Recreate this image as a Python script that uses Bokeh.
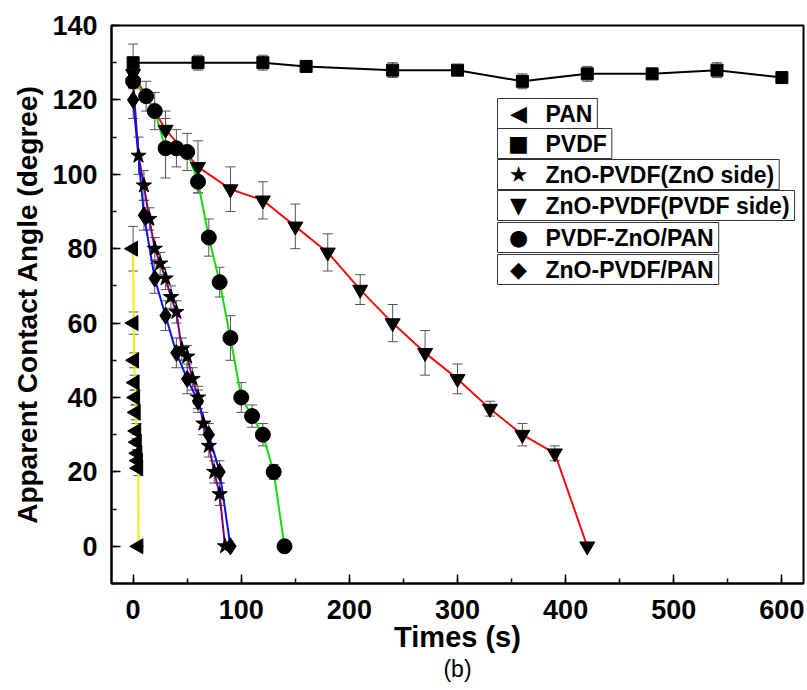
import numpy as np
from bokeh.plotting import figure
from bokeh.models import (Range1d, SingleIntervalTicker, ColumnDataSource, Whisker,
                          TeeHead, Label, LinearAxis, FixedTicker)
from bokeh.embed import file_html
from bokeh.resources import INLINE

# ---------------- data ----------------
pan_t = [0, 0.5, 1, 1.5, 2, 2.5, 3, 3.5, 4, 4.5, 4.8, 5]
pan_a = [80, 60, 50, 44, 40, 36, 31, 28, 25, 23, 21, 0]
pan_e = [6, 3, 2, 2, 2, 2, 2, 2, 2, 2, 2, 0]

pvdf_t = [0, 60, 120, 160, 240, 300, 360, 420, 480, 540, 600]
pvdf_a = [130, 130, 130, 129, 128, 128, 125, 127, 127, 128, 126]
pvdf_e = [5, 2, 2, 1, 2, 1, 2, 2, 1, 2, 1]

zns_t = [0, 5, 10, 15, 20, 25, 30, 35, 40, 45, 50, 55, 60, 65, 70, 75, 80, 85]
zns_a = [125, 105, 97, 88, 80, 76, 72, 67, 63, 53, 51, 45, 40, 33, 27, 20, 14, 0]
zns_e = [5, 5, 4, 3, 3, 3, 3, 3, 3, 3, 3, 3, 3, 3, 3, 3, 3, 0]

pvs_t = [0, 30, 60, 90, 120, 150, 180, 210, 240, 270, 300, 330, 360, 390, 420]
pvs_a = [127, 112, 102, 96, 93, 86, 79, 69, 60, 52, 45, 37, 30, 25, 0]
pvs_e = [3, 5, 7, 6, 5, 6, 5, 4, 5, 6, 4, 2, 3, 2, 0]

pzp_t = [0, 12, 20, 30, 40, 50, 60, 70, 80, 90, 100, 110, 120, 130, 140]
pzp_a = [125, 121, 117, 107, 107, 106, 98, 83, 71, 56, 40, 35, 30, 20, 0]
pzp_e = [2, 4, 5, 8, 5, 5, 3, 5, 4, 6, 4, 3, 3, 2, 0]

zpp_t = [0, 10, 20, 30, 40, 50, 60, 70, 80, 90]
zpp_a = [120, 89, 72, 62, 52, 45, 39, 30, 20, 0]
zpp_e = [5, 4, 4, 4, 4, 4, 3, 3, 3, 0]

labels = ["PAN", "PVDF", "ZnO-PVDF(ZnO side)", "ZnO-PVDF(PVDF side)",
          "PVDF-ZnO/PAN", "ZnO-PVDF/PAN"]
symbols = ["\u25C0", "\u25A0", "\u2605", "\u25BC", "\u25CF", "\u25C6"]

x_ticks_interval = 100
y_ticks_interval = 20

FONT = "Liberation Sans"

p = figure(width=805, height=688, output_backend="svg", toolbar_location=None,
           x_range=Range1d(-20, 620), y_range=Range1d(-10, 140),
           min_border_left=111, min_border_right=2, min_border_top=25,
           min_border_bottom=105)
p.grid.visible = False
p.outline_line_color = "black"
p.outline_line_width = 2
p.background_fill_color = "white"
p.border_fill_color = "white"

p.xaxis.ticker = SingleIntervalTicker(interval=x_ticks_interval, num_minor_ticks=2)
p.yaxis.ticker = SingleIntervalTicker(interval=y_ticks_interval, num_minor_ticks=2)
for ax in (p.xaxis[0], p.yaxis[0]):
    ax.axis_line_width = 2
    ax.axis_line_color = "black"
    ax.major_tick_in = 9
    ax.major_tick_out = 0
    ax.minor_tick_in = 5
    ax.minor_tick_out = 0
    ax.major_tick_line_width = 1.5
    ax.minor_tick_line_width = 1.5
    ax.major_label_text_font = FONT
    ax.major_label_text_font_style = "bold"
    ax.major_label_text_font_size = "27px"
    ax.major_label_text_color = "black"
    ax.axis_label_text_font = FONT
    ax.axis_label_text_font_style = "bold"
    ax.axis_label_text_color = "black"

p.xaxis.axis_label = "Times (s)"
p.yaxis.axis_label = "Apparent Contact Angle (degree)"
p.xaxis.axis_label_text_font_size = "29px"
p.yaxis.axis_label_text_font_size = "28px"
p.xaxis.major_label_standoff = 16
p.yaxis.major_label_standoff = 14
p.xaxis.axis_label_standoff = -1
p.yaxis.axis_label_standoff = 6

# caption "(b)" as a bare extra axis below the x axis
cap = LinearAxis(axis_label="(b)", ticker=FixedTicker(ticks=[]),
                 axis_line_color=None, major_tick_line_color=None,
                 minor_tick_line_color=None, major_label_text_font_size="0px",
                 major_label_standoff=0, axis_label_standoff=0,
                 axis_label_text_font=FONT, axis_label_text_font_style="normal",
                 axis_label_text_font_size="23px", axis_label_text_color="black")
p.add_layout(cap, "below")

series = [
    (pan_t, pan_a, pan_e, "#f5ee00", "triangle", 15, np.pi / 2),
    (pvdf_t, pvdf_a, pvdf_e, "black", "square", 12, 0),
    (zns_t, zns_a, zns_e, "#7a007a", "star", 16, 0),
    (pvs_t, pvs_a, pvs_e, "#ee1111", "inverted_triangle", 15, 0),
    (pzp_t, pzp_a, pzp_e, "#11dd11", "circle", 15, 0),
    (zpp_t, zpp_a, zpp_e, "#1010ee", "diamond", 17, 0),
]

# lines first
for t, a, e, col, mk, sz, ang in series:
    p.line(t, a, line_color=col, line_width=2)

# error bars
for t, a, e, col, mk, sz, ang in series:
    arr_a = np.array(a, dtype=float)
    arr_e = np.array(e, dtype=float)
    src = ColumnDataSource(dict(x=t, upper=arr_a + arr_e, lower=arr_a - arr_e))
    w = Whisker(source=src, base="x", upper="upper", lower="lower",
                line_color="#555555", line_width=1, level="underlay",
                upper_head=TeeHead(size=10, line_color="#555555", line_width=1),
                lower_head=TeeHead(size=10, line_color="#555555", line_width=1))
    p.add_layout(w)

# markers
for t, a, e, col, mk, sz, ang in series:
    p.scatter(t, a, marker=mk, size=sz, angle=ang, fill_color="black",
              line_color="black")

# legend: one boxed entry per series (screen units from frame bottom-left)
box_y = [470, 440, 409, 378, 346, 314]
for lab, sym, y in zip(labels, symbols, box_y):
    p.add_layout(Label(x=386, y=y, x_units="screen", y_units="screen", text=lab,
                       text_font=FONT, text_font_style="bold", text_font_size="23px",
                       text_align="left", text_baseline="middle", text_color="black",
                       background_fill_color="white", border_line_color="#333333",
                       border_line_width=1,
                       padding=dict(left=48, right=5, top=2, bottom=2)))
    p.add_layout(Label(x=407, y=y, x_units="screen", y_units="screen", text=sym,
                       text_font="DejaVu Sans", text_font_size="22px",
                       text_align="center", text_baseline="middle",
                       text_color="black"))

open("out.html", "w").write(file_html(p, INLINE))
